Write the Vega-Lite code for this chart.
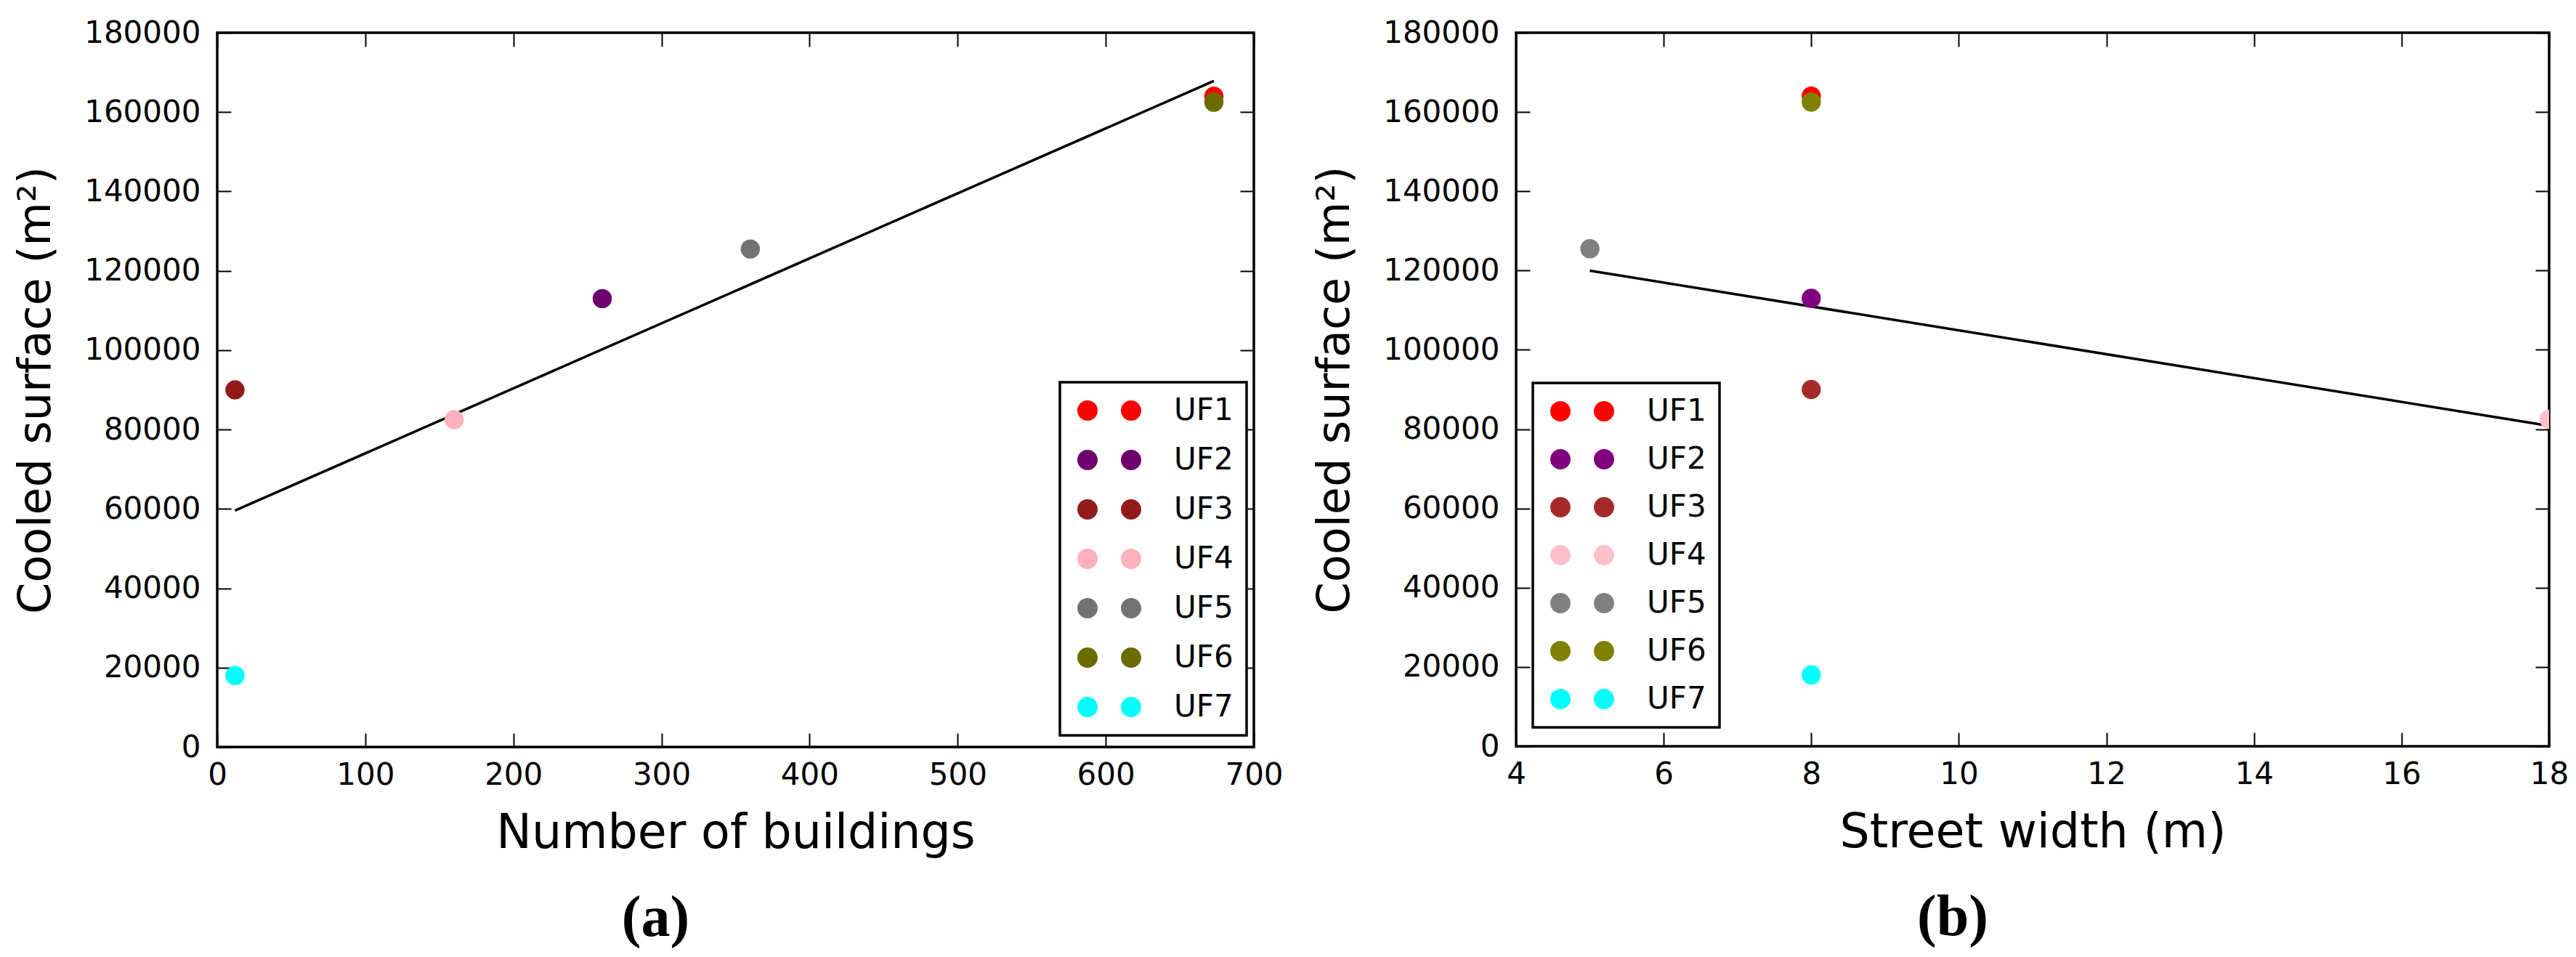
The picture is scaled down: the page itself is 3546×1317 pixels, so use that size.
{
  "$schema": "https://vega.github.io/schema/vega-lite/v6.json",
  "background": "white",
  "padding": {"left": 16, "top": 22, "right": 0, "bottom": 0},
  "data": {"values": [
    {"uf": "UF1", "buildings": 673, "width": 8, "surface": 164000},
    {"uf": "UF2", "buildings": 260, "width": 8, "surface": 113000},
    {"uf": "UF3", "buildings": 12, "width": 8, "surface": 90000},
    {"uf": "UF4", "buildings": 160, "width": 18, "surface": 82500},
    {"uf": "UF5", "buildings": 360, "width": 5, "surface": 125500},
    {"uf": "UF6", "buildings": 673, "width": 8, "surface": 162500},
    {"uf": "UF7", "buildings": 12, "width": 8, "surface": 18000}
  ]},
  "spacing": 36,
  "hconcat": [
    {
      "width": 1427,
      "height": 983,
      "title": {"text": "(a)", "orient": "bottom", "anchor": "middle", "frame": "group", "dx": -110, "offset": 46},
      "layer": [
        {
          "transform": [{"regression": "surface", "on": "buildings"}],
          "mark": {"type": "line", "color": "black", "strokeWidth": 3.5},
          "encoding": {
            "x": {"field": "buildings", "type": "quantitative", "scale": {"domain": [0, 700], "nice": false, "zero": false},
                  "axis": {"orient": "bottom", "title": "Number of buildings", "values": [0, 100, 200, 300, 400, 500, 600, 700], "format": "d"}},
            "y": {"field": "surface", "type": "quantitative", "scale": {"domain": [0, 180000], "nice": false},
                  "axis": {"orient": "left", "title": "Cooled surface (m²)", "values": [0, 20000, 40000, 60000, 80000, 100000, 120000, 140000, 160000, 180000], "format": "d"}}
          }
        },
        {
          "mark": {"type": "circle", "size": 700, "opacity": 1, "clip": true},
          "encoding": {
            "x": {"field": "buildings", "type": "quantitative", "scale": {"domain": [0, 700], "nice": false, "zero": false},
                  "axis": {"orient": "top", "title": null, "labels": false, "values": [0, 100, 200, 300, 400, 500, 600, 700]}},
            "y": {"field": "surface", "type": "quantitative", "scale": {"domain": [0, 180000], "nice": false},
                  "axis": {"orient": "right", "title": null, "labels": false, "values": [0, 20000, 40000, 60000, 80000, 100000, 120000, 140000, 160000, 180000]}},
            "color": {"field": "uf", "type": "nominal",
                      "scale": {"domain": ["UF1", "UF2", "UF3", "UF4", "UF5", "UF6", "UF7"],
                                "range": ["#ff0000", "#6e006e", "#921a1a", "#ffb0ba", "#727272", "#6b6b00", "#00ffff"]},
                      "legend": {"title": null, "orient": "none", "legendX": 1160, "legendY": 481, "rowPadding": 26,
                                 "symbolType": "M -1.071 0 A 1 1 0 1 0 0.929 0 A 1 1 0 1 0 -1.071 0 Z M 3.214 0 A 1 1 0 1 0 5.214 0 A 1 1 0 1 0 3.214 0 Z"}}
          }
        }
      ],
      "resolve": {"axis": {"x": "independent", "y": "independent"}}
    },
    {
      "width": 1422,
      "height": 982,
      "title": {"text": "(b)", "orient": "bottom", "anchor": "middle", "frame": "group", "dx": -110, "offset": 46},
      "layer": [
        {
          "transform": [{"regression": "surface", "on": "width"}],
          "mark": {"type": "line", "color": "black", "strokeWidth": 3.5},
          "encoding": {
            "x": {"field": "width", "type": "quantitative", "scale": {"domain": [4, 18], "nice": false, "zero": false},
                  "axis": {"orient": "bottom", "title": "Street width (m)", "values": [4, 6, 8, 10, 12, 14, 16, 18], "format": "d"}},
            "y": {"field": "surface", "type": "quantitative", "scale": {"domain": [0, 180000], "nice": false},
                  "axis": {"orient": "left", "title": "Cooled surface (m²)", "values": [0, 20000, 40000, 60000, 80000, 100000, 120000, 140000, 160000, 180000], "format": "d"}}
          }
        },
        {
          "mark": {"type": "circle", "size": 700, "opacity": 1, "clip": true},
          "encoding": {
            "x": {"field": "width", "type": "quantitative", "scale": {"domain": [4, 18], "nice": false, "zero": false},
                  "axis": {"orient": "top", "title": null, "labels": false, "values": [4, 6, 8, 10, 12, 14, 16, 18]}},
            "y": {"field": "surface", "type": "quantitative", "scale": {"domain": [0, 180000], "nice": false},
                  "axis": {"orient": "right", "title": null, "labels": false, "values": [0, 20000, 40000, 60000, 80000, 100000, 120000, 140000, 160000, 180000]}},
            "color": {"field": "uf", "type": "nominal",
                      "scale": {"domain": ["UF1", "UF2", "UF3", "UF4", "UF5", "UF6", "UF7"],
                                "range": ["#ff0000", "#800080", "#a52a2a", "#ffc0cb", "#808080", "#808000", "#00ffff"]},
                      "legend": {"title": null, "orient": "none", "legendX": 23, "legendY": 482, "rowPadding": 24,
                                 "symbolType": "M -1.071 0 A 1 1 0 1 0 0.929 0 A 1 1 0 1 0 -1.071 0 Z M 3.214 0 A 1 1 0 1 0 5.214 0 A 1 1 0 1 0 3.214 0 Z"}}
          }
        }
      ],
      "resolve": {"axis": {"x": "independent", "y": "independent"}}
    }
  ],
  "resolve": {"scale": {"color": "independent"}, "legend": {"color": "independent"}},
  "config": {
    "view": {"stroke": "black", "strokeWidth": 3.5},
    "axis": {
      "domain": false, "grid": false, "labelFlush": false,
      "labelFont": "DejaVu Sans", "labelFontSize": 42, "labelColor": "black",
      "tickColor": "black", "tickSize": -19, "tickWidth": 2,
      "titleFont": "DejaVu Sans", "titleFontWeight": "normal", "titleColor": "black"
    },
    "axisY": {"labelPadding": 42, "titlePadding": 34, "titleFontSize": 62},
    "axisX": {"labelPadding": 37, "titlePadding": 28, "titleFontSize": 65},
    "legend": {
      "strokeColor": "black", "strokeWidth": 3.5, "fillColor": "white", "padding": 18,
      "labelFont": "DejaVu Sans", "labelFontSize": 42, "labelColor": "black",
      "symbolSize": 784, "symbolStrokeWidth": 0, "symbolOpacity": 1,
      "labelOffset": 97
    },
    "title": {"font": "Liberation Serif", "fontSize": 80, "fontWeight": "bold", "color": "black"}
  }
}
